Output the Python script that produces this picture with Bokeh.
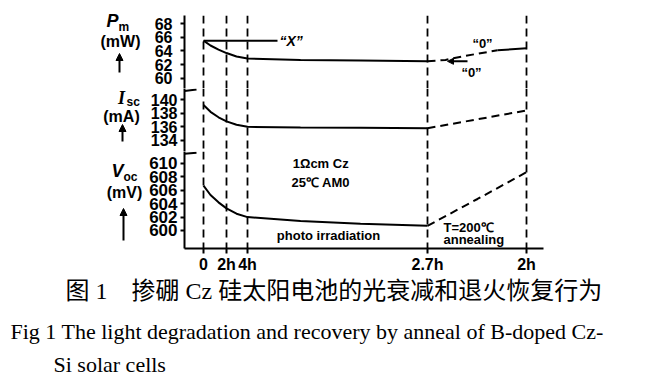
from bokeh.plotting import figure
from bokeh.layouts import column, row
from bokeh.models import (Span, Label, Arrow, NormalHead, FixedTicker, Range1d)
from bokeh.embed import file_html
from bokeh.resources import INLINE

# ---------------- data ----------------
# schematic time axis (position units)
x_ticks = [0, 23, 44, 224, 323]
x_tick_labels = ["0", "2h", "4h", "2.7h", "2h"]

# photo irradiation phase
t_light = [0, 7, 15, 23, 33, 44, 97, 157, 224]
pm_light = [65.5, 64.8, 64.2, 63.7, 63.2, 62.9, 62.7, 62.6, 62.5]
isc_light = [139.2, 138.2, 137.4, 136.8, 136.3, 136.0, 135.9, 135.85, 135.8]
voc_light = [606.7, 605.3, 604.2, 603.3, 602.5, 602.0, 601.4, 601.0, 600.7]

# control sample "X"
t_ctrl = [0, 74]
pm_ctrl = [65.5, 65.5]

# annealing phase (T = 200 C)
t_anneal_pm = [224, 242, 262, 294]
pm_anneal = [62.5, 62.7, 63.3, 64.1]
t_anneal_pm_end = [294, 323]
pm_anneal_end = [64.1, 64.4]
t_anneal = [224, 274, 323]
isc_anneal = [135.8, 137.1, 138.4]
voc_anneal = [600.7, 604.7, 608.7]

pm_ticks = [60, 62, 64, 66, 68]
isc_ticks = [134, 136, 138, 140]
voc_ticks = [600, 602, 604, 606, 608, 610]

caption_cn = "\u56fe 1\u3000\u63ba\u787c Cz \u7845\u592a\u9633\u7535\u6c60\u7684\u5149\u8870\u51cf\u548c\u9000\u706b\u6062\u590d\u884c\u4e3a"
caption_en1 = "Fig 1 The light degradation and recovery by anneal of B-doped Cz-"
caption_en2 = "Si solar cells"

SANS = "Liberation Sans"
CAP_FONT = "Liberation Serif, Noto Sans CJK SC"
LW = 145          # width of the left label strip
MW = 656 - LW     # width of the chart column
XR = Range1d(-19, 340)


def make_fig(h, ylo, yhi, ticks, top=0, bottom=0, xaxis=False, standoff=3,
             fsize="17px"):
    p = figure(width=MW, height=h, x_range=XR, y_range=Range1d(ylo, yhi),
               output_backend="svg", toolbar_location=None, title=None,
               x_axis_location="below" if xaxis else None,
               min_border_left=39, min_border_right=113,
               min_border_top=top, min_border_bottom=bottom)
    p.outline_line_color = None
    p.grid.visible = False
    p.background_fill_color = "white"
    p.border_fill_color = "white"
    ax = p.yaxis[0]
    ax.ticker = FixedTicker(ticks=ticks)
    ax.minor_tick_line_color = None
    ax.axis_line_width = 2
    ax.major_tick_line_width = 2
    ax.major_tick_out = 4
    ax.major_tick_in = 0
    ax.major_label_standoff = standoff
    ax.major_label_text_font = SANS
    ax.major_label_text_font_style = "bold"
    ax.major_label_text_font_size = fsize
    ax.major_label_text_color = "black"
    ax.axis_line_color = "black"
    for xv in x_ticks:
        p.add_layout(Span(location=xv, dimension="height", line_color="black",
                          line_width=1.8, line_dash="8 5"))
    return p


def blank_fig(w, h):
    p = figure(width=w, height=h, x_range=Range1d(0, w), y_range=Range1d(h, 0),
               output_backend="svg", toolbar_location=None, title=None,
               x_axis_location=None, y_axis_location=None, min_border=0)
    p.outline_line_color = None
    p.grid.visible = False
    p.background_fill_color = "white"
    p.border_fill_color = "white"
    return p


def lbl(p, text, x, y, size="13px", style="bold", align="center",
        base="middle", font=SANS):
    p.add_layout(Label(x=x, y=y, text=text,
                       text_font=font, text_font_size=size,
                       text_font_style=style, text_align=align,
                       text_baseline=base, text_color="black"))


def up_arrow(p, x, y0, y1):
    p.add_layout(Arrow(x_start=x, y_start=y0, x_end=x, y_end=y1,
                       line_width=2, line_color="black",
                       end=NormalHead(size=7, fill_color="black",
                                      line_color="black")))


# ---------------- Pm panel ----------------
f1 = make_fig(88, 58.545, 69.164, pm_ticks, top=15, standoff=8, fsize="16px")
f1.line(t_light, pm_light, line_color="black", line_width=2)
f1.line(t_ctrl, pm_ctrl, line_color="black", line_width=2)
f1.line(t_anneal_pm, pm_anneal, line_color="black", line_width=2,
        line_dash="8 5")
f1.line(t_anneal_pm_end, pm_anneal_end, line_color="black", line_width=2)
lbl(f1, "\u201cX\u201d", 76, 65.5, size="14px", style="bold italic",
    align="left")
lbl(f1, "\u201c0\u201d", 279, 65.1, size="13px")
lbl(f1, "\u201c0\u201d", 268, 60.9, size="13px")
f1.add_layout(Arrow(x_start=264, y_start=62.5, x_end=244, y_end=62.5,
                    line_width=2, line_color="black",
                    end=NormalHead(size=6, fill_color="black",
                                   line_color="black")))

# ---------------- Isc panel ----------------
f2 = make_fig(63, 132.39, 141.61, isc_ticks, fsize="16px")
f2.line(t_light, isc_light, line_color="black", line_width=2)
f2.line(t_anneal, isc_anneal, line_color="black", line_width=2,
        line_dash="8 5")
f2.segment(x0=[-19], y0=[141.25], x1=[-7], y1=[141.45], line_color="black",
           line_width=2)

# ---------------- Voc panel ----------------
f3 = make_fig(124, 597.31, 611.79, voc_ticks, bottom=27, xaxis=True)
f3.line(t_light, voc_light, line_color="black", line_width=2)
f3.line(t_anneal, voc_anneal, line_color="black", line_width=2,
        line_dash="8 5")
f3.segment(x0=[-19], y0=[611.45], x1=[-7], y1=[611.6], line_color="black",
           line_width=2)
xa = f3.xaxis[0]
xa.ticker = FixedTicker(ticks=x_ticks)
xa.major_label_overrides = {k: v for k, v in zip(x_ticks, x_tick_labels)}
xa.minor_tick_line_color = None
xa.axis_line_width = 2
xa.major_tick_line_width = 2
xa.major_tick_out = 5
xa.major_tick_in = 0
xa.major_label_standoff = 2
xa.major_label_text_font = SANS
xa.major_label_text_font_style = "bold"
xa.major_label_text_font_size = "16px"
xa.major_label_text_color = "black"

lbl(f3, "1\u03a9cm  Cz", 119, 610.0)
lbl(f3, "25\u2103  AM0", 119, 607.2)
lbl(f3, "photo irradiation", 125, 599.25)
lbl(f3, "T=200\u2103", 240, 600.45, align="left")
lbl(f3, "annealing", 240, 598.66, align="left")

# ---------------- left label strip ----------------
L = blank_fig(LW, 275)
lbl(L, "P", 112, 20, size="18px", style="bold italic")
lbl(L, "m", 118, 26, size="12px", align="left")
lbl(L, "(mW)", 120, 41, size="16px")
up_arrow(L, 119, 72, 53)
lbl(L, "I", 121, 97, size="18px", style="bold italic", font="Liberation Serif")
lbl(L, "sc", 126, 101, size="12px", align="left")
lbl(L, "(mA)", 121, 116, size="16px")
up_arrow(L, 122, 141, 124)
lbl(L, "V", 117, 170, size="18px", style="bold italic")
lbl(L, "oc", 123, 176, size="12px", align="left")
lbl(L, "(mV)", 124, 192, size="16px")
up_arrow(L, 123, 240, 208)

# ---------------- caption ----------------
C = blank_fig(656, 110)
lbl(C, caption_cn, 65, 15, size="24px", style="normal", align="left",
    base="alphabetic", font=CAP_FONT)
lbl(C, caption_en1, 10, 56, size="22px", style="normal", align="left",
    base="alphabetic", font=CAP_FONT)
lbl(C, caption_en2, 53, 89, size="22px", style="normal", align="left",
    base="alphabetic", font=CAP_FONT)

layout = column(row(L, column(f1, f2, f3, spacing=0), spacing=0), C,
                spacing=0)
open("out.html", "w").write(file_html(layout, INLINE))
